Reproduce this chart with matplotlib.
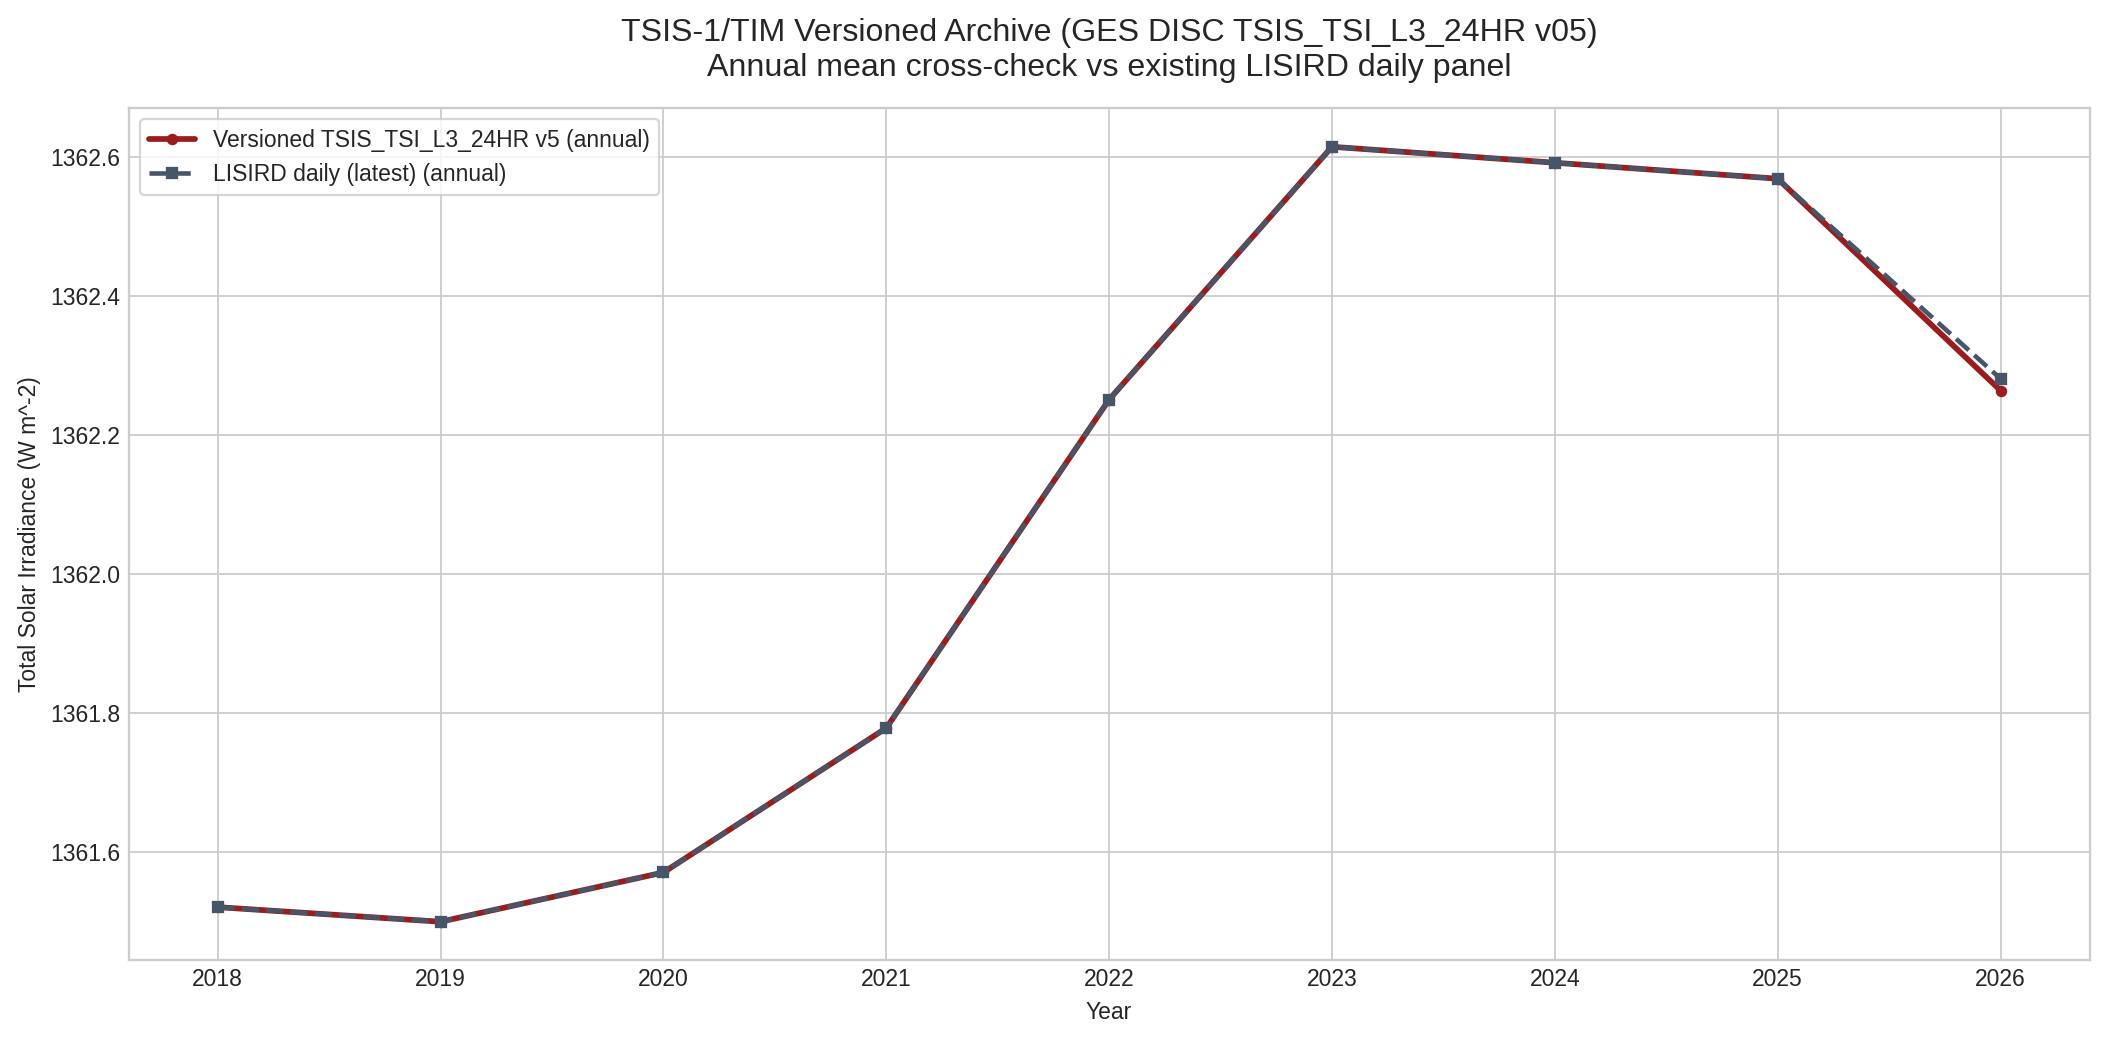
import matplotlib
matplotlib.use("Agg")
import matplotlib.pyplot as plt

years = [2018, 2019, 2020, 2021, 2022, 2023, 2024, 2025, 2026]
versioned = [1361.520, 1361.499, 1361.570, 1361.778, 1362.251, 1362.615, 1362.592, 1362.569, 1362.264]
lisird = [1361.520, 1361.499, 1361.570, 1361.778, 1362.251, 1362.615, 1362.592, 1362.569, 1362.281]

plt.style.use("seaborn-v0_8-whitegrid")
plt.rcParams["font.family"] = ["Liberation Sans", "DejaVu Sans"]

DPI = 165
fig, ax = plt.subplots(figsize=(2108 / DPI, 1042 / DPI), dpi=DPI)
ax.plot(years, versioned, color="#9b1c1c", linewidth=2.5, marker="o", markersize=4,
        label="Versioned TSIS_TSI_L3_24HR v5 (annual)")
ax.plot(years, lisird, color="#475569", linewidth=2, linestyle="--", marker="s", markersize=4,
        label="LISIRD daily (latest) (annual)")
ax.set_xticks(years)
ax.set_xlabel("Year")
ax.set_ylabel("Total Solar Irradiance (W m^-2)")
ax.set_title("TSIS-1/TIM Versioned Archive (GES DISC TSIS_TSI_L3_24HR v05)\nAnnual mean cross-check vs existing LISIRD daily panel",
             fontsize=14, pad=14)
ax.legend(loc="upper left", frameon=True)
for s in ax.spines.values():
    s.set_visible(True)
    s.set_color("#cccccc")
fig.tight_layout(pad=0.8)
fig.savefig("out.png", dpi=DPI)
